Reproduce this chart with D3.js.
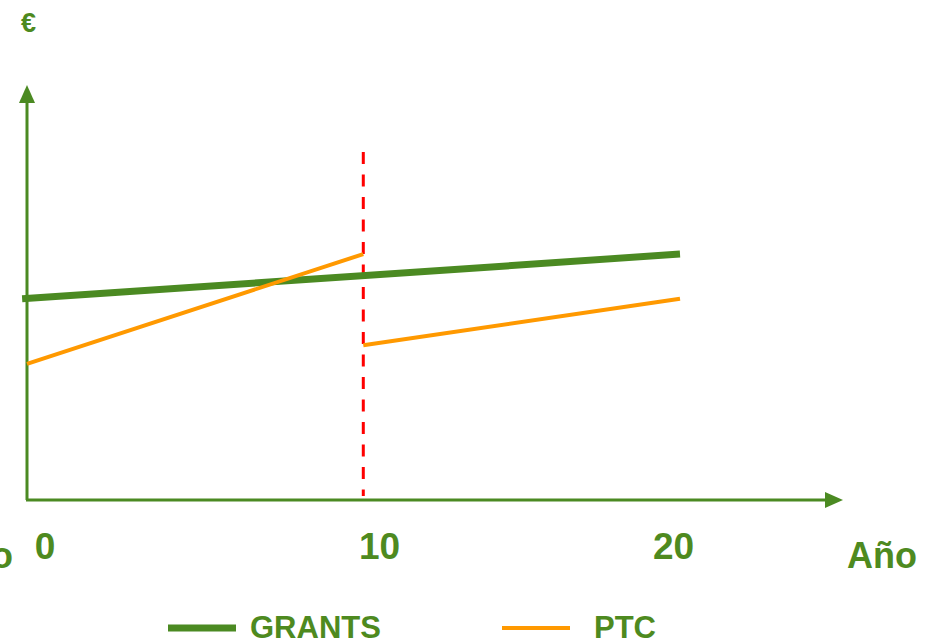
<!DOCTYPE html>
<html>
<head>
<meta charset="utf-8">
<script src="https://d3js.org/d3.v7.min.js"></script>
<style>
  body { margin: 0; background: #fff; }
  text { font-family: "Liberation Sans", Arial, sans-serif; font-weight: bold; fill: #4e8a1f; }
</style>
</head>
<body>
<script>
// chart values (y in arbitrary € units, x in years)
var grants = [[-0.15, 48.6], [20, 59.4]];
var ptcBefore = [[0, 32.9], [10.3, 59.4]];
var ptcAfter = [[10.3, 37.4], [20, 48.6]];
var cutYear = 10.3;
var tickLabels = ["0", "10", "20"];
var tickPos = [0.55, 10.8, 19.8];
var legendNames = ["GRANTS", "PTC"];

var width = 939, height = 641;
var green = "#4b8a22", orange = "#ff9900", red = "#ff0000";

var x = d3.scaleLinear().domain([0, 20]).range([27, 680]);
var y = d3.scaleLinear().domain([0, 100]).range([500, 86]);

var svg = d3.select("body").append("svg")
  .attr("width", width)
  .attr("height", height);

// axes with arrow heads
svg.append("line")
  .attr("x1", 27).attr("y1", 500).attr("x2", 27).attr("y2", 100)
  .attr("stroke", green).attr("stroke-width", 3);
svg.append("path")
  .attr("d", "M27,85 L19,103 L35,103 Z").attr("fill", green);

svg.append("line")
  .attr("x1", 26).attr("y1", 500).attr("x2", 828).attr("y2", 500)
  .attr("stroke", green).attr("stroke-width", 3);
svg.append("path")
  .attr("d", "M843,500 L825,492 L825,508 Z").attr("fill", green);

var line = d3.line()
  .x(function(d) { return x(d[0]); })
  .y(function(d) { return y(d[1]); });

// red dashed cut at year 10
svg.append("line")
  .attr("x1", x(cutYear)).attr("x2", x(cutYear))
  .attr("y1", 152).attr("y2", 496)
  .attr("stroke", red).attr("stroke-width", 3)
  .attr("stroke-dasharray", "12,10.5");

svg.append("path").datum(grants)
  .attr("d", line).attr("fill", "none")
  .attr("stroke", green).attr("stroke-width", 7);

svg.selectAll(".ptc")
  .data([ptcBefore, ptcAfter])
  .enter().append("path")
  .attr("class", "ptc")
  .attr("d", line).attr("fill", "none")
  .attr("stroke", orange).attr("stroke-width", 4);

// tick labels
svg.selectAll(".tick")
  .data(tickLabels)
  .enter().append("text")
  .attr("class", "tick")
  .attr("x", function(d, i) { return x(tickPos[i]); })
  .attr("y", 559)
  .attr("text-anchor", "middle")
  .style("font-size", "37px")
  .text(function(d) { return d; });

svg.append("text")
  .attr("x", 847).attr("y", 568)
  .style("font-size", "36px")
  .text("Año");

// partly hidden label at left edge
svg.append("text")
  .attr("x", 13).attr("y", 568)
  .attr("text-anchor", "end")
  .style("font-size", "36px")
  .text("Año");

svg.append("text")
  .attr("x", 21).attr("y", 32)
  .style("font-size", "27px")
  .text("€");

// legend
var legend = svg.selectAll(".legend")
  .data(legendNames)
  .enter().append("g")
  .attr("class", "legend")
  .attr("transform", function(d, i) { return "translate(" + [168, 502][i] + ",0)"; });

legend.append("line")
  .attr("x1", 0).attr("x2", 68)
  .attr("y1", 628).attr("y2", 628)
  .attr("stroke", function(d, i) { return i === 0 ? green : orange; })
  .attr("stroke-width", function(d, i) { return i === 0 ? 7 : 4; });

legend.append("text")
  .attr("x", function(d, i) { return [82, 92][i]; })
  .attr("y", 638)
  .style("font-size", "31px")
  .text(function(d) { return d; });
</script>
</body>
</html>
